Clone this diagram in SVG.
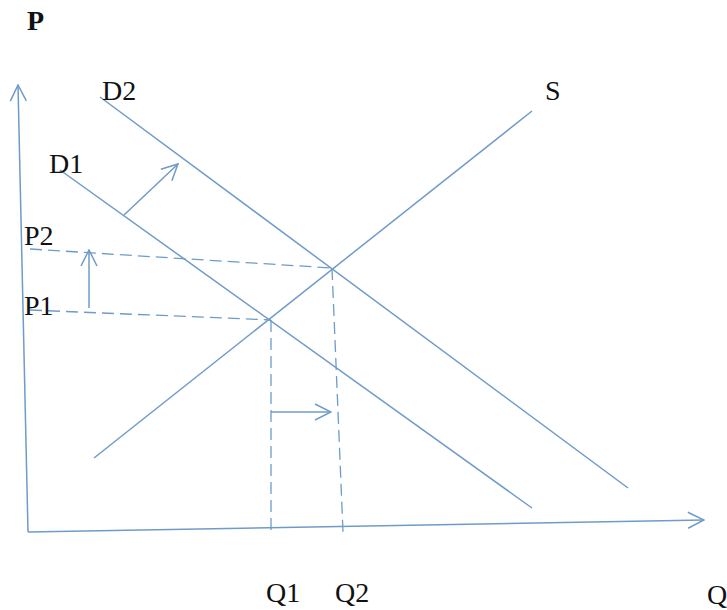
<svg xmlns="http://www.w3.org/2000/svg" width="727" height="610" viewBox="0 0 727 610">
<defs>
<style>
.ln{stroke:#6f9bc8;stroke-width:1.5;fill:none}
.dash{stroke:#6f9bc8;stroke-width:1.3;fill:none;stroke-dasharray:12 6}
.t{font-family:"Liberation Serif","Times New Roman",serif;font-size:28px;fill:#111}
.b{font-family:"Liberation Serif","Times New Roman",serif;font-size:28px;font-weight:bold;fill:#111}
</style>
<marker id="arr" viewBox="0 0 18 18" markerWidth="18" markerHeight="18" refX="17" refY="9" orient="auto" markerUnits="userSpaceOnUse">
<path d="M1,1 L17,9 L1,17" fill="none" stroke="#6f9bc8" stroke-width="1.5"/>
</marker>
</defs>
<rect width="727" height="610" fill="#fff"/>
<g id="axes">
<line class="ln" x1="28" y1="532" x2="18" y2="85" marker-end="url(#arr)"/>
<line class="ln" x1="28" y1="532" x2="704" y2="520" marker-end="url(#arr)"/>
</g>
<g id="curves">
<line id="D2" class="ln" x1="100" y1="97" x2="628" y2="488"/>
<line id="D1" class="ln" x1="60" y1="170" x2="532" y2="508"/>
<line id="S" class="ln" x1="94" y1="458" x2="532" y2="111"/>
</g>
<g id="guides">
<line class="dash" x1="30" y1="249" x2="332" y2="268"/>
<line class="dash" x1="30" y1="310" x2="271" y2="320"/>
<line class="dash" x1="271" y1="320" x2="271" y2="532"/>
<line class="dash" x1="332" y1="268" x2="343" y2="532"/>
</g>
<g id="arrows">
<line class="ln" x1="124" y1="215" x2="178" y2="164" marker-end="url(#arr)"/>
<line class="ln" x1="89" y1="308" x2="89" y2="250" marker-end="url(#arr)"/>
<line class="ln" x1="271" y1="412" x2="331" y2="412" marker-end="url(#arr)"/>
</g>
<g id="labels">
<text class="b" x="27" y="30">P</text>
<text class="t" x="102" y="100">D2</text>
<text class="t" x="49" y="173">D1</text>
<text class="t" x="545" y="100">S</text>
<text class="t" x="24" y="245">P2</text>
<text class="t" x="24" y="315">P1</text>
<text class="t" x="266" y="602">Q1</text>
<text class="t" x="335" y="602">Q2</text>
<text class="t" x="707" y="604">Q</text>
</g>
</svg>
